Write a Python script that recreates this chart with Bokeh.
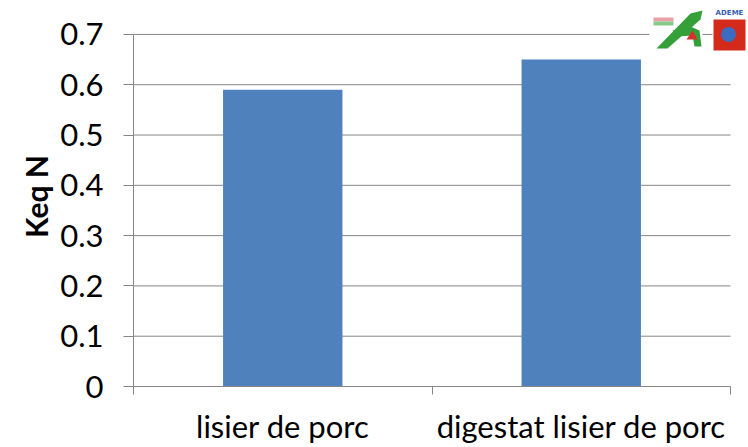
from bokeh.plotting import figure
from bokeh.models import Range1d, FixedTicker
from bokeh.core.properties import value
from bokeh.embed import file_html
from bokeh.resources import INLINE

categories = ["lisier de porc", "digestat lisier de porc"]
values = [0.59, 0.65]
y_ticks = [0, 0.1, 0.2, 0.3, 0.4, 0.5, 0.6, 0.7]
y_tick_labels = ["0", "0.1", "0.2", "0.3", "0.4", "0.5", "0.6", "0.7"]

FONT = "Lato"
AX = "#868686"
W, H = 748, 447
LEFT, RIGHT_AXIS, TOP_AXIS, BOTTOM = 133, 730, 34, 387   # plot-area pixel edges
FRAME_TOP, FRAME_RIGHT = 6, 746                          # frame extended for the logos

n = len(categories)
y_max = y_ticks[-1]
px_per_x = (RIGHT_AXIS - LEFT) / n
px_per_y = (BOTTOM - TOP_AXIS) / y_max
x_end = (FRAME_RIGHT - LEFT) / px_per_x
y_end = (BOTTOM - FRAME_TOP) / px_per_y

p = figure(width=W, height=H, output_backend="svg", toolbar_location=None,
           x_range=Range1d(0, x_end), y_range=Range1d(0, y_end),
           min_border_left=LEFT, min_border_right=W - FRAME_RIGHT,
           min_border_top=FRAME_TOP, min_border_bottom=H - BOTTOM)
p.outline_line_color = None
p.xgrid.visible = False
p.ygrid.visible = False

# horizontal gridlines limited to the plot area
p.segment(x0=0, x1=n, y0=y_ticks, y1=y_ticks, line_color=AX, line_width=1)

centers = [i + 0.5 for i in range(n)]
p.vbar(x=centers, top=values, width=0.4, bottom=0, color="#4F81BD", line_color=None)

# x axis: separators as minor ticks, labels at centers
p.xaxis.bounds = (0, n)
p.xaxis.ticker = FixedTicker(ticks=centers, minor_ticks=list(range(n + 1)))
p.xaxis.major_label_overrides = {c: s for c, s in zip(centers, categories)}
p.xaxis.major_tick_line_color = None
p.xaxis.minor_tick_out = 8
p.xaxis.minor_tick_in = 0
p.xaxis.minor_tick_line_color = AX
p.xaxis.axis_line_color = AX
p.xaxis.major_label_text_font = FONT
p.xaxis.major_label_text_font_size = "31px"
p.xaxis.major_label_text_color = "black"
p.xaxis.major_label_standoff = 12

p.yaxis.bounds = (0, y_max)
p.yaxis.ticker = FixedTicker(ticks=y_ticks)
p.yaxis.major_label_overrides = {t: l for t, l in zip(y_ticks, y_tick_labels)}
p.yaxis.minor_tick_line_color = None
p.yaxis.major_tick_out = 10
p.yaxis.major_tick_in = 0
p.yaxis.major_tick_line_color = AX
p.yaxis.axis_line_color = AX
p.yaxis.major_label_text_font = FONT
p.yaxis.major_label_text_font_size = "31px"
p.yaxis.major_label_text_color = "black"
p.yaxis.major_label_standoff = 20
p.yaxis.axis_label = "Keq N"
p.yaxis.axis_label_text_font = FONT
p.yaxis.axis_label_text_font_style = "bold"
p.yaxis.axis_label_text_font_size = "30px"
p.yaxis.axis_label_text_color = "black"
p.yaxis.axis_label_standoff = 3

# ---- decorative logos (placed by page pixel, converted to data units) ----
def dx(px):
    return (px - LEFT) / px_per_x

def dy(py):
    return (BOTTOM - py) / px_per_y

def box(l, t, r, b, color):
    p.quad(left=dx(l), right=dx(r), top=dy(t), bottom=dy(b), color=color, line_color=None)

def poly(pts, color):
    p.patch(x=[dx(a) for a, b in pts], y=[dy(b) for a, b in pts], color=color, line_color=None)

# white backgrounds of the two logos
box(649, 7, 702, 52, "white")
box(712, 7, FRAME_RIGHT, 52, "white")
# left logo
box(653, 17, 673, 21, "#E8A0A6")
box(653, 21, 673, 25, "#86C98A")
poly([(656, 48), (667, 48), (700, 19), (702, 10), (690, 13)], "#35A03A")
poly([(672, 30), (690, 26), (699, 30), (701, 46), (694, 46), (692, 35), (677, 36)], "#35A03A")
poly([(686, 39), (692, 30), (697, 39)], "#D8302A")
# right logo (ADEME)
p.text(x=[dx(729)], y=[dy(13)], text=["ADEME"], text_font=value("DejaVu Sans"),
       text_font_size="7px", text_font_style="bold", text_color="#3A5FB0",
       text_align="center", text_baseline="middle")
box(713, 19, 745, 50, "#D42A1C")
p.scatter(x=[dx(728)], y=[dy(34)], size=15, color="#3B6CC2", line_color=None)

open("out.html", "w").write(file_html(p, INLINE))
